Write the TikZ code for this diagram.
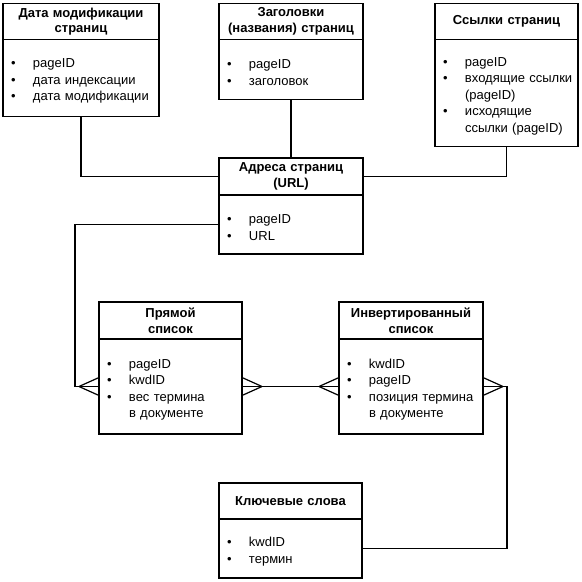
\documentclass[tikz,border=0pt]{standalone}
\usepackage{fontspec}
\setmainfont{Liberation Sans}
\usetikzlibrary{positioning}

\newcommand{\fld}[1]{\makebox[22pt][l]{•}\mbox{#1}}
\newcommand{\fldcont}[1]{\hspace*{22pt}\mbox{#1}}

\begin{document}
\begin{tikzpicture}[
    x=1pt, y=-1pt,
    entityhead/.style={
        draw,
        line width=1.2pt,
        outer sep=0pt,
        inner sep=0pt,
        align=center,
        font=\fontsize{13}{15.5}\selectfont\bfseries
    },
    entitybody/.style={
        draw,
        line width=1.2pt,
        outer sep=0pt,
        inner ysep=0pt,
        inner xsep=8pt,
        align=left,
        font=\fontsize{13}{16.5}\selectfont,
        execute at begin node={\rule{0pt}{15.5pt}}
    },
    link/.style={
        line width=1.2pt
    },
    crowfoot/.pic={
        \draw[link] (-20,0) -- (0,-9) (-20,0) -- (0,9);
    }
]

\useasboundingbox (0,0) rectangle (582,582);

\node[entityhead, minimum width=156pt, text width=150pt, minimum height=36pt] (datehead) at (81,21.5) {
    Дата модификации\\страниц
};
\node[entitybody, text width=140pt, minimum height=77pt, below=0pt of datehead] (datebody) {
    \fld{pageID}\\
    \fld{дата индексации}\\
    \fld{дата модификации}
};

\node[entityhead, minimum width=144pt, text width=140pt, minimum height=36pt] (titlehead) at (291,21.5) {
    Заголовки\\(названия) страниц
};
\node[entitybody, text width=128pt, minimum height=60pt, below=0pt of titlehead] (titlebody) {
    \fld{pageID}\\
    \fld{заголовок}
};

\node[entityhead, minimum width=143pt, text width=139pt, minimum height=36pt] (linkhead) at (506.5,21.5) {
    Ссылки страниц
};
\node[entitybody, text width=127pt, minimum height=107pt, below=0pt of linkhead] (linkbody) {
    \fld{pageID}\\
    \fld{входящие ссылки}\\
    \fldcont{(pageID)}\\
    \fld{исходящие}\\
    \fldcont{ссылки (pageID)}
};

\node[entityhead, minimum width=144pt, text width=140pt, minimum height=37pt] (urlhead) at (291,176.5) {
    Адреса страниц\\(URL)
};
\node[entitybody, text width=128pt, minimum height=59pt, below=0pt of urlhead] (urlbody) {
    \fld{pageID}\\
    \fld{URL}
};

\node[entityhead, minimum width=143pt, text width=139pt, minimum height=37pt] (fwdhead) at (170.5,320.5) {
    Прямой\\список
};
\node[entitybody, text width=127pt, minimum height=95pt, below=0pt of fwdhead] (fwdbody) {
    \fld{pageID}\\
    \fld{kwdID}\\
    \fld{вес термина}\\
    \fldcont{в документе}
};

\node[entityhead, minimum width=144pt, text width=140pt, minimum height=37pt] (invhead) at (411,320.5) {
    Инвертированный\\список
};
\node[entitybody, text width=128pt, minimum height=95pt, below=0pt of invhead] (invbody) {
    \fld{kwdID}\\
    \fld{pageID}\\
    \fld{позиция термина}\\
    \fldcont{в документе}
};

\node[entityhead, minimum width=143pt, text width=139pt, minimum height=36pt] (kwdhead) at (290.5,501) {
    Ключевые слова
};
\node[entitybody, text width=127pt, minimum height=59pt, below=0pt of kwdhead] (kwdbody) {
    \fld{kwdID}\\
    \fld{термин}
};

\draw[link]
    (datebody.south)
    |-
    (urlhead.west);

\draw[link]
    (titlebody.south)
    --
    (urlhead.north);

\draw[link]
    (linkbody.south)
    |-
    (urlhead.east);

\draw[link]
    (urlbody.west)
    -- ++(-144,0)
    |-
    (fwdbody.west);

\draw[link]
    (fwdbody.east)
    --
    (invbody.west);

\draw[link]
    (invbody.east)
    -- ++(24,0)
    |-
    (kwdbody.east);

\pic at (fwdbody.west) {crowfoot};
\pic[rotate=180] at (fwdbody.east) {crowfoot};
\pic at (invbody.west) {crowfoot};
\pic[rotate=180] at (invbody.east) {crowfoot};

\end{tikzpicture}
\end{document}
